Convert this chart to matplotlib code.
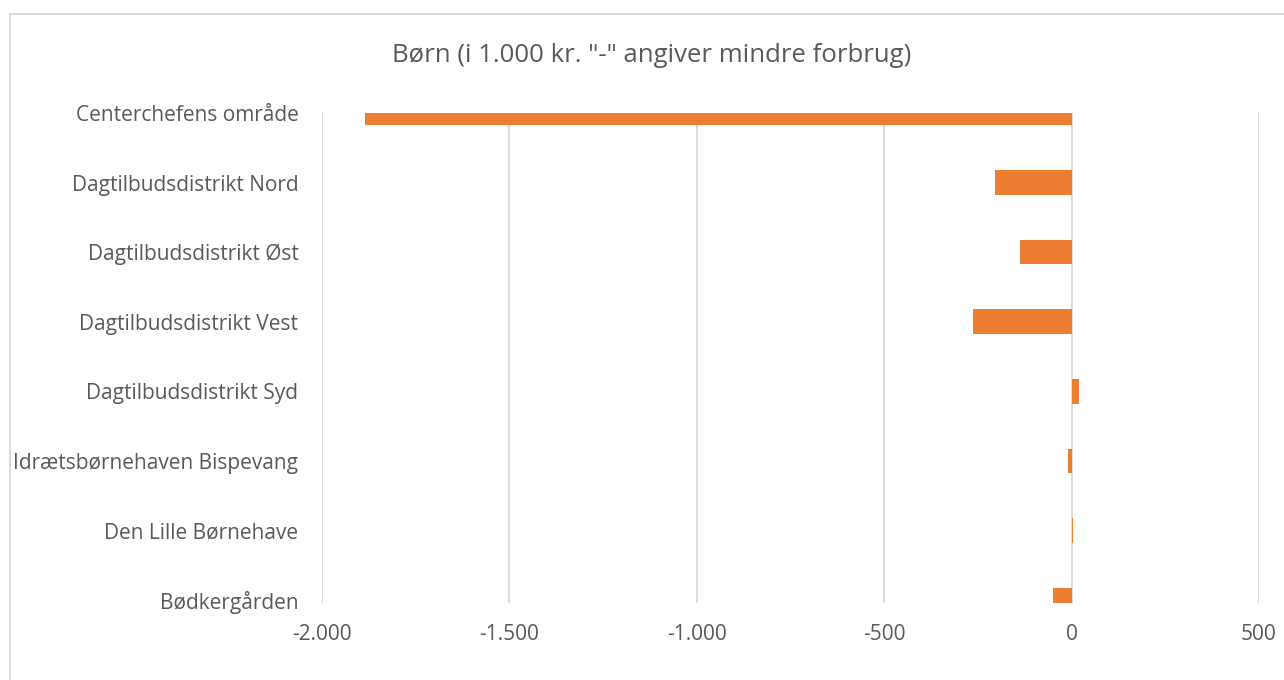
import matplotlib.pyplot as plt
from matplotlib.lines import Line2D
from matplotlib.ticker import FuncFormatter

plt.rcParams['font.family'] = ['Open Sans', 'DejaVu Sans']

categories = ['Centerchefens område', 'Dagtilbudsdistrikt Nord', 'Dagtilbudsdistrikt Øst',
              'Dagtilbudsdistrikt Vest', 'Dagtilbudsdistrikt Syd', 'Idrætsbørnehaven Bispevang',
              'Den Lille Børnehave', 'Bødkergården']
values = [-1885, -205, -137, -262, 19, -9, 4, -50]
xticks = [-2000, -1500, -1000, -500, 0, 500]

text_col = '#595959'
grid_col = '#D9D9D9'
bar_col = '#ED7D31'

fig = plt.figure(figsize=(12.84, 6.8), dpi=100)
ax = fig.add_axes([322 / 1284, 77 / 680, 937 / 1284, 490 / 680])

pos = list(range(len(categories)))
ax.barh(pos, values, height=0.355, color=bar_col, zorder=3)

ax.set_xlim(-2000, 500)
ax.set_ylim(7.043, 0)
ax.set_xticks(xticks)
ax.xaxis.set_major_formatter(FuncFormatter(lambda v, p: f'{int(v):,}'.replace(',', '.')))
ax.set_yticks(pos)
ax.set_yticklabels(categories)
ax.grid(axis='x', color=grid_col, linewidth=1.3, zorder=0)
for s in ax.spines.values():
    s.set_visible(False)
ax.tick_params(axis='both', length=0, colors=text_col, labelsize=15)
ax.tick_params(axis='x', pad=15)
ax.tick_params(axis='y', pad=17)

fig.text(652 / 1284, 1 - 56 / 680, 'Børn (i 1.000 kr. "-" angiver mindre forbrug)',
         ha='center', va='center', fontsize=18.5, color=text_col)

# chart border (left and top edges visible)
fig.add_artist(Line2D([9.5 / 1284, 9.5 / 1284], [0, 1 - 14 / 680], color=grid_col, linewidth=1.3))
fig.add_artist(Line2D([9.5 / 1284, 1], [1 - 14 / 680, 1 - 14 / 680], color=grid_col, linewidth=1.3))

fig.savefig('out.png', dpi=100)
